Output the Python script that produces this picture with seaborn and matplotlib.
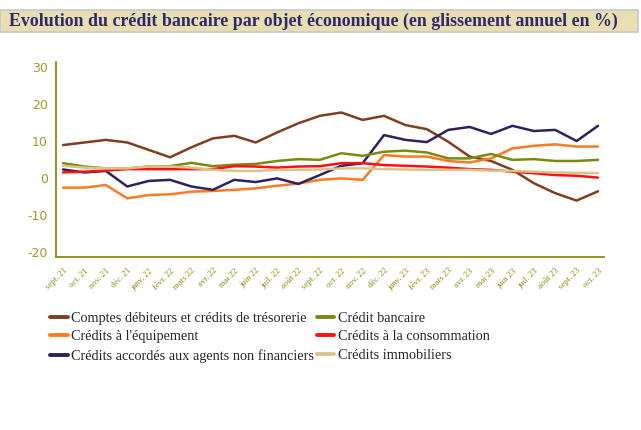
import matplotlib
matplotlib.use('Agg')
import matplotlib.pyplot as plt
import matplotlib.patches as patches
import seaborn as sb
import numpy as np
import pandas as pd

# Months (Sept 2021 -> Oct 2023)
months = ['sept. 21', 'oct. 21', 'nov. 21', 'déc. 21', 'janv. 22', 'févr. 22', 'mars 22',
          'avr. 22', 'mai 22', 'juin 22', 'juil. 22', 'août 22', 'sept. 22', 'oct. 22',
          'nov. 22', 'déc. 22', 'janv. 23', 'févr. 23', 'mars 23', 'avr. 23', 'mai 23',
          'juin 23', 'juil. 23', 'août 23', 'sept. 23', 'oct. 23']

comptes_debiteurs = [8.9, 9.6, 10.3, 9.6, 7.6, 5.6, 8.3, 10.7, 11.4, 9.6, 12.3, 14.8, 16.8,
                     17.7, 15.7, 16.8, 14.3, 13.2, 9.8, 5.8, 4.6, 2.2, -1.4, -4.1, -6.1, -3.6]
credit_bancaire = [4.0, 3.1, 2.6, 2.6, 3.1, 3.2, 4.1, 3.2, 3.6, 3.8, 4.6, 5.1, 4.9,
                   6.7, 6.0, 7.1, 7.4, 6.9, 5.3, 5.3, 6.5, 4.9, 5.1, 4.6, 4.6, 4.9]
credits_equipement = [-2.6, -2.6, -1.9, -5.5, -4.6, -4.4, -3.7, -3.5, -3.2, -2.8, -2.1, -1.5, -0.5,
                      -0.1, -0.5, 6.2, 5.8, 5.8, 4.6, 4.2, 5.3, 8.0, 8.7, 9.1, 8.5, 8.5]
credits_consommation = [1.5, 1.7, 2.0, 2.4, 2.4, 2.4, 2.4, 2.4, 3.2, 3.1, 2.8, 3.1, 3.2,
                        4.0, 4.0, 3.5, 3.3, 3.1, 2.8, 2.4, 2.2, 1.7, 1.3, 0.8, 0.6, 0.1]
credits_agents = [2.3, 1.5, 1.9, -2.3, -0.8, -0.5, -2.3, -3.2, -0.5, -1.1, -0.1, -1.6, 0.8,
                  3.3, 4.0, 11.6, 10.3, 9.7, 13.0, 13.8, 11.9, 14.1, 12.7, 13.0, 10.0, 14.1]
credits_immobiliers = [3.3, 2.8, 2.6, 2.6, 3.1, 3.1, 2.8, 2.2, 1.9, 1.9, 2.2, 2.2, 2.3,
                       2.6, 2.6, 2.4, 2.3, 2.2, 2.2, 2.2, 2.0, 1.9, 1.7, 1.5, 1.4, 1.3]

series = {
    'Comptes débiteurs et crédits de trésorerie': comptes_debiteurs,
    'Crédits à l\'équipement': credits_equipement,
    'Crédits accordés aux agents non financiers': credits_agents,
    'Crédit bancaire': credit_bancaire,
    'Crédits à la consommation': credits_consommation,
    'Crédits immobiliers': credits_immobiliers,
}
colors = {
    'Comptes débiteurs et crédits de trésorerie': '#7f3f1f',
    'Crédits à l\'équipement': '#ff7a1e',
    'Crédits accordés aux agents non financiers': '#2e2160',
    'Crédit bancaire': '#7c8a0c',
    'Crédits à la consommation': '#ff1010',
    'Crédits immobiliers': '#d8c48c',
}

rows = []
for name, vals in series.items():
    for i, v in enumerate(vals):
        rows.append({'idx': i, 'value': v, 'serie': name})
df = pd.DataFrame(rows)

sb.set_style('white')
plt.rcParams['font.family'] = ['Liberation Serif', 'DejaVu Serif']
plt.rcParams['axes.unicode_minus'] = False

W, H = 641, 430
fig = plt.figure(figsize=(W / 100, H / 100), dpi=100)

# Title banner
fig.patches.append(patches.Rectangle((0, 1 - 32 / H), 638 / W, 22 / H, transform=fig.transFigure,
                                     facecolor='#e9ddb2', edgecolor='#c8c8c8', linewidth=1.2))
fig.text(313 / W, 1 - 21 / H, 'Evolution du crédit bancaire par objet économique (en glissement annuel en %)',
         ha='center', va='center', fontsize=12.9, fontweight='bold', color='#2d2a6c')

# Axes placed in pixel coords
ax = fig.add_axes([56 / W, (H - 257) / H, (604 - 56) / W, (257 - 62) / H])
sb.lineplot(data=df, x='idx', y='value', hue='serie', palette=colors, ax=ax,
            linewidth=1.8, legend=False)

ax.set_xlim(-0.33, 25.28)
ax.set_ylim(-21.35, 31.35)
ax.set_yticks([-20, -10, 0, 10, 20, 30])
ax.set_xticks(range(len(months)))
ax.set_xticklabels(months, rotation=45, ha='right', rotation_mode='anchor',
                   fontsize=6.2, color='#b8b048')
ax.set_xlabel('')
ax.set_ylabel('')
for s in ['top', 'right']:
    ax.spines[s].set_visible(False)
for s in ['left', 'bottom']:
    ax.spines[s].set_color('#8c8a10')
    ax.spines[s].set_linewidth(1.3)
ax.tick_params(axis='both', colors='#8c8a10', length=4, width=1, direction='out')
ax.tick_params(axis='y', labelcolor='#a09c28', labelsize=9, pad=2)
ax.tick_params(axis='x', pad=3)
for lab in ax.get_yticklabels():
    lab.set_family(['DejaVu Sans'])

# Legend below (column-major order)
handles = [plt.Line2D([], [], color=colors[n], linewidth=2.8) for n in series]
fig.legend(handles, list(series.keys()), loc='upper left', bbox_to_anchor=(50 / W, 1 - 312 / H),
           ncol=2, frameon=False, fontsize=10.3, handlelength=1.25, handletextpad=0.25,
           columnspacing=0.15, labelspacing=0.38, borderaxespad=0, borderpad=0)

fig.savefig('out.png', dpi=100)
